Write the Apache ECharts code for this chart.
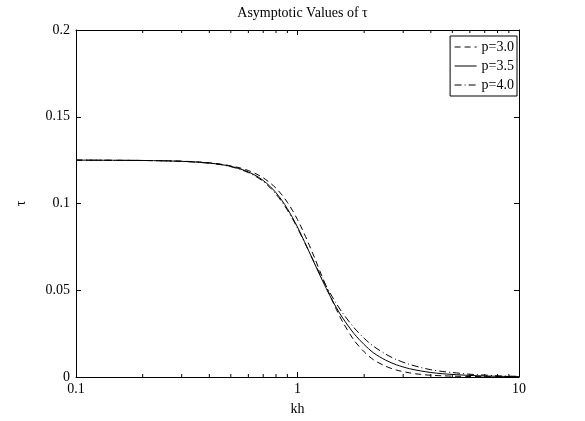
<!DOCTYPE html>
<html>
<head>
<meta charset="utf-8">
<script src="https://cdn.jsdelivr.net/npm/echarts@6/dist/echarts.min.js"></script>
<style>html,body{margin:0;padding:0;background:#fff}#c{width:585px;height:421px}</style>
</head>
<body>
<div id="c"></div>
<script>
var kh = [0.1,0.15,0.2,0.25,0.3,0.35,0.4,0.45,0.5,0.55,0.6,0.65,0.7,0.75,0.8,0.85,0.9,0.95,1.0,1.05,1.1,1.15,1.2,1.3,1.4,1.5,1.6,1.8,2.0,2.2,2.5,2.8,3.2,3.6,4,4.5,5,6,7,8,9,10];
var tauP30 = [0.1250,0.1249,0.1248,0.1246,0.1244,0.1240,0.1235,0.1227,0.1217,0.1205,0.1190,0.1171,0.1148,0.1120,0.1088,0.1050,0.1007,0.0959,0.0907,0.0852,0.0795,0.0737,0.0680,0.0570,0.0472,0.0388,0.0317,0.0212,0.0145,0.0100,0.0062,0.0040,0.0024,0.0015,0.0010,0.0007,0.0005,0.0003,0.0002,0.00015,0.0001,0.0001];
var tauP35 = [0.1250,0.1249,0.1248,0.1246,0.1243,0.1239,0.1233,0.1225,0.1214,0.1200,0.1182,0.1160,0.1133,0.1100,0.1062,0.1018,0.0970,0.0918,0.0864,0.0808,0.0753,0.0699,0.0647,0.0552,0.0469,0.0398,0.0340,0.0250,0.0187,0.0140,0.0097,0.0070,0.0048,0.0035,0.0026,0.0019,0.0015,0.0009,0.0006,0.0004,0.0003,0.0002];
var tauP40 = [0.1250,0.1249,0.1248,0.1246,0.1243,0.1238,0.1232,0.1224,0.1212,0.1197,0.1178,0.1155,0.1127,0.1093,0.1054,0.1010,0.0962,0.0911,0.0858,0.0804,0.0751,0.0700,0.0651,0.0562,0.0486,0.0422,0.0368,0.0284,0.0223,0.0178,0.0132,0.0100,0.0073,0.0055,0.0042,0.0032,0.0026,0.0016,0.0011,0.0007,0.0005,0.0004];
var seriesNames = ['p=3.0','p=3.5','p=4.0'];
var xMinorTicks = [0.2,0.3,0.4,0.5,0.6,0.7,0.8,0.9,2,3,4,5,6,7,8,9];
var yTicks = [0, 0.05, 0.1, 0.15, 0.2];

var FONT = '"Liberation Serif", "DejaVu Serif", serif';
function pairs(ys){ return kh.map(function(x,i){ return [x, ys[i]]; }); }

var chart = echarts.init(document.getElementById('c'), null, {renderer:'canvas'});
var gridL = 76, gridR = 66, gridT = 30, gridB = 40;
var axisCommon = {
  axisLine:{show:true, onZero:false, lineStyle:{color:'#000', width:1}},
  axisTick:{show:true, inside:true, length:5, lineStyle:{color:'#000'}},
  splitLine:{show:false}
};
var option = {
  backgroundColor:'#fff',
  animation:false,
  title:{
    text:'Asymptotic Values of \u03c4',
    left: gridL + (585 - gridL - gridR)/2, textAlign:'center', top:1,
    textStyle:{fontFamily:FONT, fontSize:14, fontWeight:'normal', color:'#000'}
  },
  legend:{
    data: seriesNames,
    orient:'vertical', right: gridR + 2, top: gridT + 6,
    itemWidth: 22, itemHeight: 10, itemGap: 5,
    padding:[4,3,4,4],
    itemStyle:{opacity:0, borderWidth:0, color:'rgba(0,0,0,0)'},
    lineStyle:{width:1},
    borderColor:'#000', borderWidth:1, backgroundColor:'#fff',
    textStyle:{fontFamily:FONT, fontSize:14, color:'#000'}
  },
  grid:{left:gridL, right:gridR, top:gridT, bottom:gridB, containLabel:false},
  xAxis:[
    Object.assign({type:'log', logBase:10, min:0.1, max:10, position:'bottom',
      name:'kh', nameLocation:'middle', nameGap:25,
      nameTextStyle:{fontFamily:FONT, fontSize:14, color:'#000'},
      axisLabel:{fontFamily:FONT, fontSize:14, color:'#000', margin:5,
        formatter:function(v){ return String(+v.toPrecision(3)); }}
    }, axisCommon),
    Object.assign({type:'log', logBase:10, min:0.1, max:10, position:'top',
      axisLabel:{show:false}}, axisCommon)
  ],
  yAxis:[
    Object.assign({type:'value', min:0, max:0.2, interval:0.05, position:'left',
      name:'\u03c4', nameLocation:'middle', nameGap:48, nameRotate:90,
      nameTextStyle:{fontFamily:FONT, fontSize:14, color:'#000'},
      axisLabel:{fontFamily:FONT, fontSize:14, color:'#000', margin:6}
    }, axisCommon),
    Object.assign({type:'value', min:0, max:0.2, interval:0.05, position:'right',
      axisLabel:{show:false}}, axisCommon)
  ],
  series:[
    {name:seriesNames[0], type:'line', data:pairs(tauP30), symbol:'none', smooth:0.3,
      lineStyle:{color:'#000', width:1, type:[6,4]}, itemStyle:{color:'#000'}},
    {name:seriesNames[1], type:'line', data:pairs(tauP35), symbol:'none', smooth:0.3,
      lineStyle:{color:'#000', width:1, type:'solid'}, itemStyle:{color:'#000'}},
    {name:seriesNames[2], type:'line', data:pairs(tauP40), symbol:'none', smooth:0.3,
      lineStyle:{color:'#000', width:1, type:[7,3,1,3]}, itemStyle:{color:'#000'}},
    {name:'minorTicks', type:'custom', silent:true, clip:false,
      data: xMinorTicks.map(function(v){ return [v, 0]; }),
      renderItem:function(params, api){
        var b = api.coord([api.value(0), yTicks[0]]);
        var t = api.coord([api.value(0), yTicks[yTicks.length-1]]);
        var st = {stroke:'#000', lineWidth:1};
        return {type:'group', children:[
          {type:'line', shape:{x1:b[0], y1:b[1], x2:b[0], y2:b[1]-3}, style:st},
          {type:'line', shape:{x1:t[0], y1:t[1], x2:t[0], y2:t[1]+3}, style:st}
        ]};
      }
    }
  ]
};
chart.setOption(option);
</script>
</body>
</html>
